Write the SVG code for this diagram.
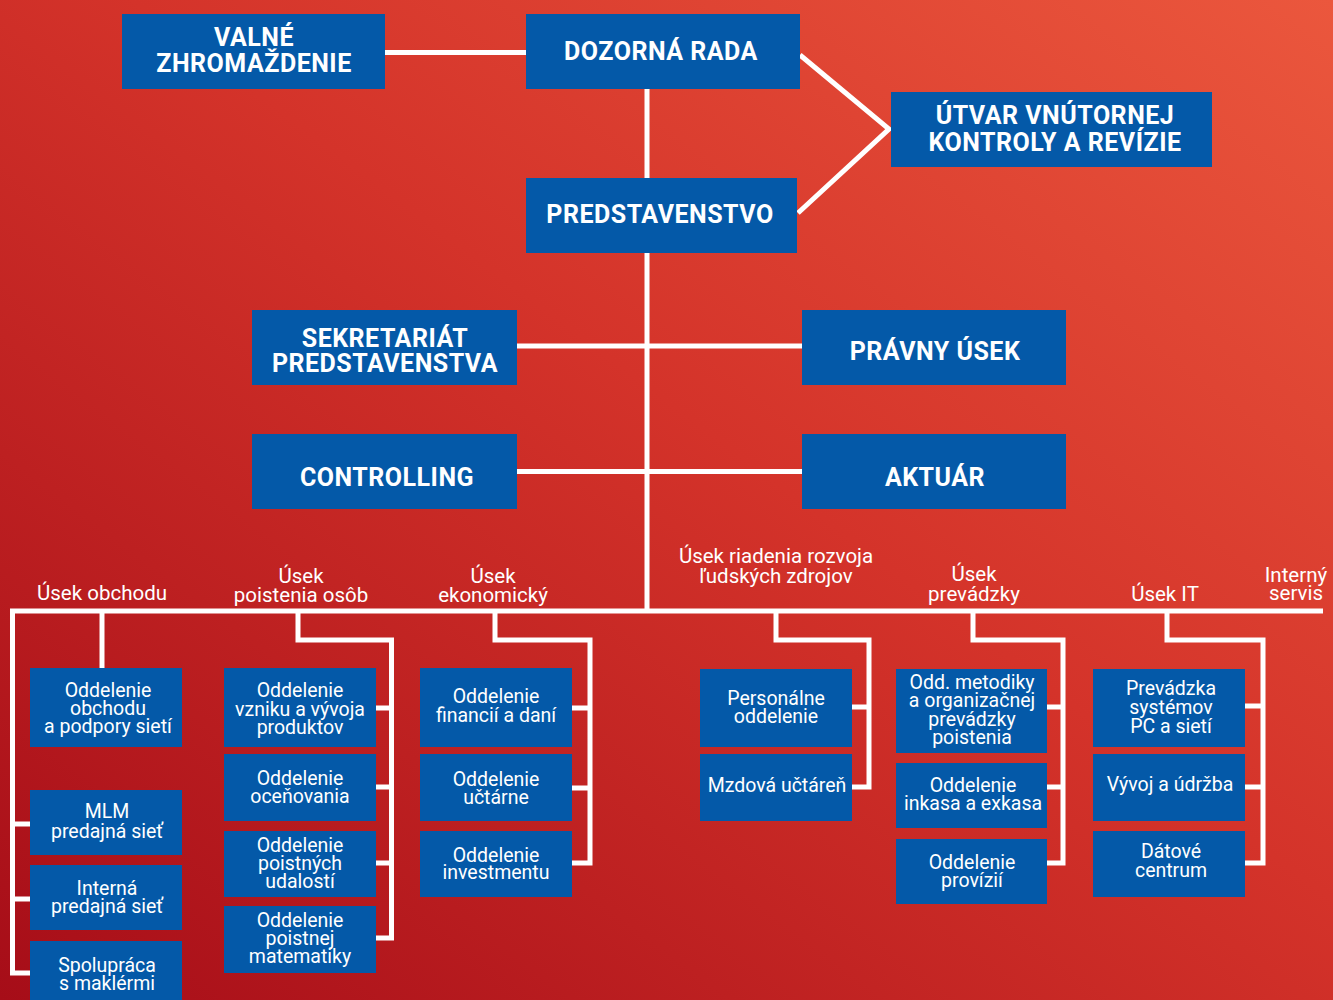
<svg xmlns="http://www.w3.org/2000/svg" width="1333" height="1000" viewBox="0 0 1333 1000">
<defs>
<linearGradient id="bg" x1="1" y1="0" x2="0" y2="1">
<stop offset="0" stop-color="#eb573d"/>
<stop offset="0.45" stop-color="#d4332a"/>
<stop offset="1" stop-color="#a60d18"/>
</linearGradient>
<style>
.box{fill:#0459a8}
.h{font-family:Roboto,"Liberation Sans",sans-serif;font-weight:700;font-size:25px;letter-spacing:0.5px;fill:#fff;text-anchor:middle}
.t{font-family:Roboto,"Liberation Sans",sans-serif;font-size:19.5px;fill:#fff;text-anchor:middle}
.l{font-family:Roboto,"Liberation Sans",sans-serif;font-size:20.5px;fill:#fff;text-anchor:middle}
.ln{fill:none;stroke:#fff;stroke-width:5;stroke-linejoin:miter}
</style>
</defs>
<rect x="0" y="0" width="1333" height="1000" fill="url(#bg)"/>

<g id="connectors" class="ln">
<path d="M385 52.5H526"/>
<path d="M647 89V178M647 253V611"/>
<path d="M800 55L889 129L798 213"/>
<path d="M517 346H802"/>
<path d="M517 471.5H802"/>
<path d="M10 611H1323"/>
<path d="M12.5 611V973H30M12.5 824H30M12.5 899H30"/>
<path d="M102 611V668"/>
<path d="M298 611V640H391.5V938H376M391.5 708H376M391.5 787H376M391.5 863H376"/>
<path d="M495 611V640H590V863H572M590 708H572M590 788H572"/>
<path d="M776 611V640H869V787H852M869 707H852"/>
<path d="M973 611V640H1063V863H1047M1063 707H1047M1063 787H1047"/>
<path d="M1167 611V640H1263V863H1245M1263 706H1245M1263 787H1245"/>
</g>

<g id="valne"><rect class="box" x="122" y="14" width="263" height="75"/><text class="h" x="254" y="46">VALNÉ</text><text class="h" x="254" y="72">ZHROMAŽDENIE</text></g>
<g id="dozorna"><rect class="box" x="526" y="14" width="274" height="75"/><text class="h" x="661" y="60">DOZORNÁ RADA</text></g>
<g id="utvar"><rect class="box" x="891" y="92" width="321" height="75"/><text class="h" x="1055" y="124">ÚTVAR VNÚTORNEJ</text><text class="h" x="1055" y="151">KONTROLY A REVÍZIE</text></g>
<g id="predstavenstvo"><rect class="box" x="526" y="178" width="271" height="75"/><text class="h" x="660" y="223">PREDSTAVENSTVO</text></g>
<g id="sekretariat"><rect class="box" x="252" y="310" width="265" height="75"/><text class="h" x="385" y="347">SEKRETARIÁT</text><text class="h" x="385" y="372">PREDSTAVENSTVA</text></g>
<g id="pravny"><rect class="box" x="802" y="310" width="264" height="75"/><text class="h" x="935" y="360">PRÁVNY ÚSEK</text></g>
<g id="controlling"><rect class="box" x="252" y="434" width="265" height="75"/><text class="h" x="387" y="486">CONTROLLING</text></g>
<g id="aktuar"><rect class="box" x="802" y="434" width="264" height="75"/><text class="h" x="935" y="486">AKTUÁR</text></g>

<g id="lbl-obchod"><text class="l" x="102" y="600">Úsek obchodu</text></g>
<g id="lbl-poistenia"><text class="l" x="301" y="583">Úsek</text><text class="l" x="301" y="602">poistenia osôb</text></g>
<g id="lbl-ekonomicky"><text class="l" x="493" y="583">Úsek</text><text class="l" x="493" y="602">ekonomický</text></g>
<g id="lbl-ludske"><text class="l" x="776" y="563">Úsek riadenia rozvoja</text><text class="l" x="776" y="582.5">ľudských zdrojov</text></g>
<g id="lbl-prevadzka"><text class="l" x="974" y="580.5">Úsek</text><text class="l" x="974" y="600.5">prevádzky</text></g>
<g id="lbl-it"><text class="l" x="1165" y="600.5">Úsek IT</text></g>
<g id="lbl-servis"><text class="l" x="1296" y="581.5">Interný</text><text class="l" x="1296" y="599.5">servis</text></g>

<g id="odd-obchodu"><rect class="box" x="30" y="668" width="152" height="79"/><text class="t" x="108" y="697">Oddelenie</text><text class="t" x="108" y="715">obchodu</text><text class="t" x="108" y="733">a podpory sietí</text></g>
<g id="mlm"><rect class="box" x="30" y="790" width="152" height="65"/><text class="t" x="107" y="818">MLM</text><text class="t" x="107" y="837.5">predajná sieť</text></g>
<g id="interna"><rect class="box" x="30" y="865" width="152" height="65"/><text class="t" x="107" y="895">Interná</text><text class="t" x="107" y="913">predajná sieť</text></g>
<g id="spolupraca"><rect class="box" x="30" y="941" width="152" height="66"/><text class="t" x="107" y="972">Spolupráca</text><text class="t" x="107" y="990">s maklérmi</text></g>

<g id="odd-vzniku"><rect class="box" x="224" y="668" width="152" height="79"/><text class="t" x="300" y="697">Oddelenie</text><text class="t" x="300" y="715.5">vzniku a vývoja</text><text class="t" x="300" y="733.5">produktov</text></g>
<g id="odd-ocenovania"><rect class="box" x="224" y="754" width="152" height="67"/><text class="t" x="300" y="785">Oddelenie</text><text class="t" x="300" y="803">oceňovania</text></g>
<g id="odd-poistnych"><rect class="box" x="224" y="831" width="152" height="66"/><text class="t" x="300" y="851.5">Oddelenie</text><text class="t" x="300" y="870">poistných</text><text class="t" x="300" y="888">udalostí</text></g>
<g id="odd-matematiky"><rect class="box" x="224" y="906" width="152" height="67"/><text class="t" x="300" y="926.5">Oddelenie</text><text class="t" x="300" y="945">poistnej</text><text class="t" x="300" y="963">matematiky</text></g>

<g id="odd-financii"><rect class="box" x="420" y="668" width="152" height="79"/><text class="t" x="496" y="703">Oddelenie</text><text class="t" x="496" y="721.5">financií a daní</text></g>
<g id="odd-uctarne"><rect class="box" x="420" y="754" width="152" height="67"/><text class="t" x="496" y="785.5">Oddelenie</text><text class="t" x="496" y="803.5">učtárne</text></g>
<g id="odd-investmentu"><rect class="box" x="420" y="831" width="152" height="66"/><text class="t" x="496" y="861.5">Oddelenie</text><text class="t" x="496" y="879">investmentu</text></g>

<g id="personalne"><rect class="box" x="700" y="669" width="152" height="78"/><text class="t" x="776" y="704.5">Personálne</text><text class="t" x="776" y="723">oddelenie</text></g>
<g id="mzdova"><rect class="box" x="700" y="754" width="152" height="67"/><text class="t" x="777" y="791.5">Mzdová učtáreň</text></g>

<g id="odd-metodiky"><rect class="box" x="896" y="669" width="151" height="84"/><text class="t" x="972" y="689">Odd. metodiky</text><text class="t" x="972" y="707">a organizačnej</text><text class="t" x="972" y="725.5">prevádzky</text><text class="t" x="972" y="744">poistenia</text></g>
<g id="odd-inkasa"><rect class="box" x="896" y="763" width="151" height="65"/><text class="t" x="973" y="791.5">Oddelenie</text><text class="t" x="973" y="810">inkasa a exkasa</text></g>
<g id="odd-provizii"><rect class="box" x="896" y="839" width="151" height="65"/><text class="t" x="972" y="868.5">Oddelenie</text><text class="t" x="972" y="886.5">provízií</text></g>

<g id="prevadzka-pc"><rect class="box" x="1093" y="669" width="152" height="78"/><text class="t" x="1171" y="695">Prevádzka</text><text class="t" x="1171" y="713.5">systémov</text><text class="t" x="1171" y="733">PC a sietí</text></g>
<g id="vyvoj"><rect class="box" x="1093" y="754" width="152" height="67"/><text class="t" x="1170" y="790.5">Vývoj a údržba</text></g>
<g id="datove"><rect class="box" x="1093" y="831" width="152" height="66"/><text class="t" x="1171" y="858">Dátové</text><text class="t" x="1171" y="877">centrum</text></g>
</svg>
